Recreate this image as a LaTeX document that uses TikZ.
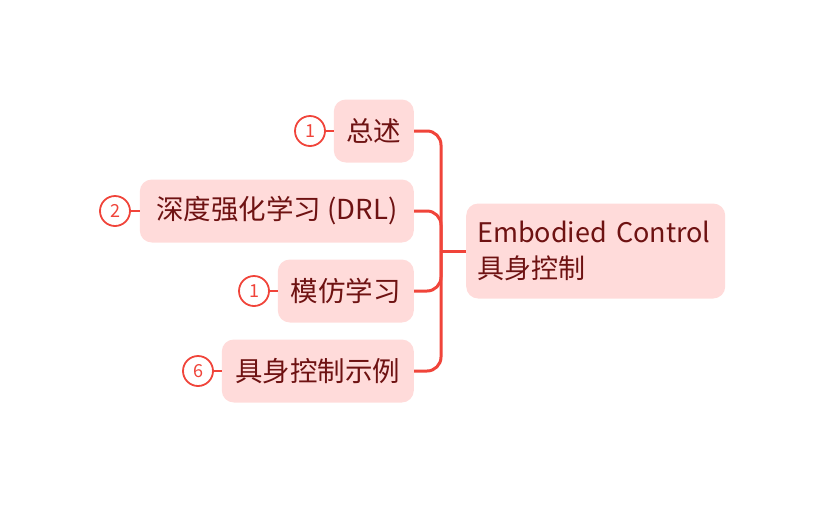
\documentclass[tikz,border=0pt]{standalone}
\usepackage{fontspec}
\setmainfont{Noto Sans CJK SC}
\begin{document}
\begin{tikzpicture}[x=1pt,y=-1pt]
\definecolor{linec}{RGB}{240,68,58}
\definecolor{fillc}{RGB}{255,219,218}
\definecolor{textc}{RGB}{110,18,18}
\tikzset{
  topic/.style={fill=fillc, rounded corners=12pt, text=textc, font=\fontsize{27.5}{33}\selectfont, minimum height=63pt, inner sep=0pt, anchor=east},
  conn/.style={draw=linec, line width=3pt, rounded corners=14pt},
  badge/.style={circle, draw=linec, line width=1.8pt, fill=white, text=linec, minimum size=30pt, inner sep=0pt, font=\fontsize{18}{18}\selectfont},
  blink/.style={draw=linec, line width=2.5pt}
}
\useasboundingbox (0,0) rectangle (826,504);
\node[topic, minimum width=259pt, minimum height=95pt, anchor=west, align=left, text width=237pt, font=\fontsize{27}{36}\selectfont] (root) at (466,251) {Embodied Control\\具身控制};
\node[topic, minimum width=80pt] (c1) at (414,131) {总述};
\node[topic, minimum width=274pt] (c2) at (414,211) {深度强化学习 (DRL)};
\node[topic, minimum width=136pt] (c3) at (414,291) {模仿学习};
\node[topic, minimum width=192pt] (c4) at (414,371) {具身控制示例};
\coordinate (j) at (441,251);
\draw[conn, rounded corners=0pt] (root.west) -- (j);
\draw[conn] (j) -- (j |- c1) -- (c1.east);
\draw[conn] (j) -- (j |- c2) -- (c2.east);
\draw[conn] (j) -- (j |- c3) -- (c3.east);
\draw[conn] (j) -- (j |- c4) -- (c4.east);
\node[badge] (b1) at (310,131) {1};
\node[badge] (b2) at (115,211) {2};
\node[badge] (b3) at (254,291) {1};
\node[badge] (b4) at (198,371) {6};
\draw[blink] (b1) -- (c1.west);
\draw[blink] (b2) -- (c2.west);
\draw[blink] (b3) -- (c3.west);
\draw[blink] (b4) -- (c4.west);
\end{tikzpicture}
\end{document}
